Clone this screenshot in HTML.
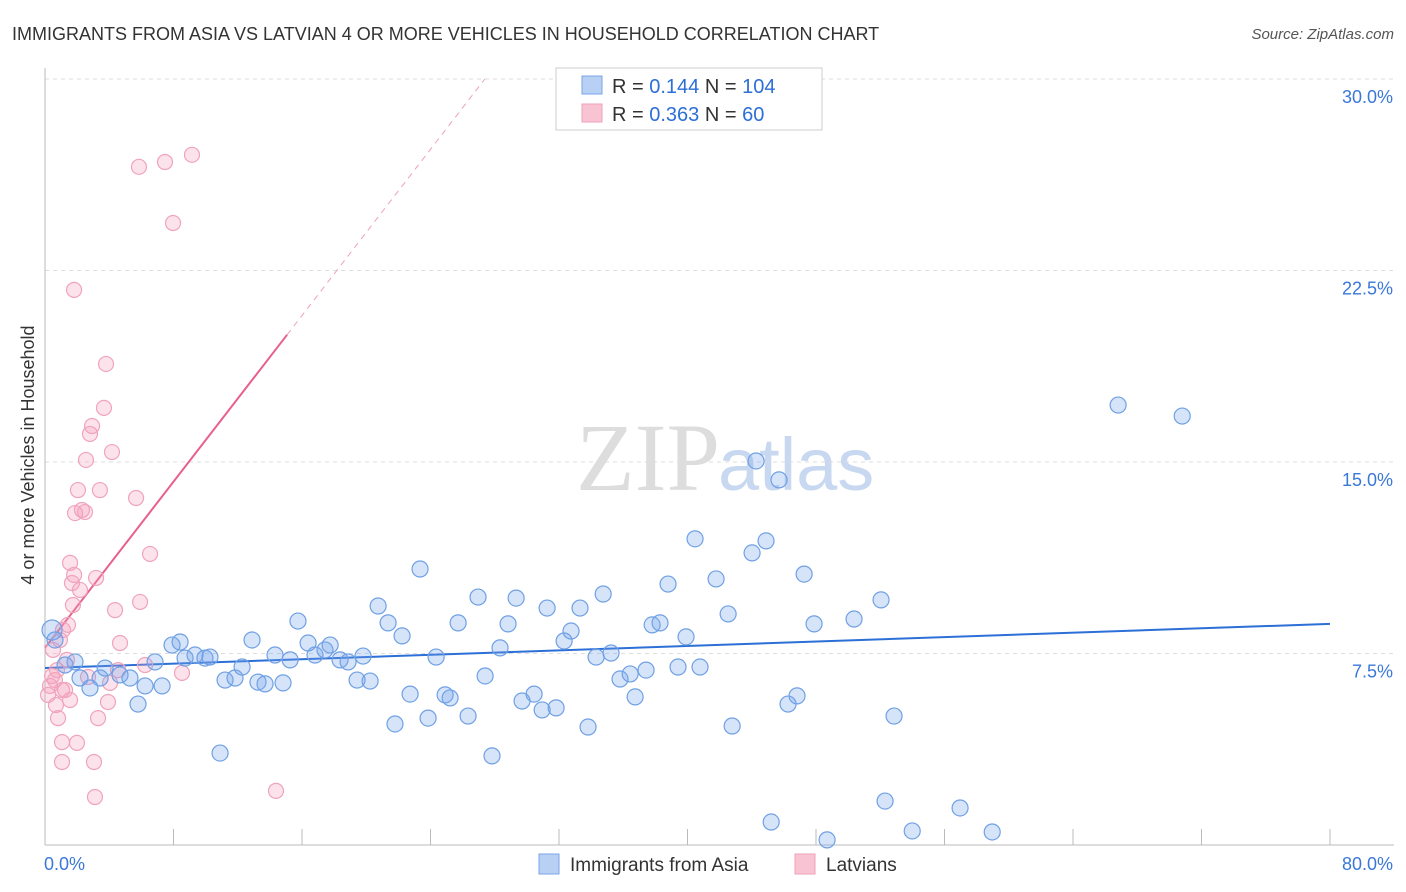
<!DOCTYPE html>
<html><head><meta charset="utf-8">
<style>
body{margin:0;background:#fff;font-family:"Liberation Sans",sans-serif;}
#wrap{position:relative;width:1406px;height:892px;overflow:hidden;}
</style></head>
<body>
<div id="wrap">
<svg id="chart" width="1406" height="892" xmlns="http://www.w3.org/2000/svg">
<text x="12" y="40" font-size="18" fill="#333">IMMIGRANTS FROM ASIA VS LATVIAN 4 OR MORE VEHICLES IN HOUSEHOLD CORRELATION CHART</text>
<text x="1394" y="39" font-size="15" fill="#555" font-style="italic" text-anchor="end">Source: ZipAtlas.com</text>
<text x="720" y="490" font-size="96" fill="#ddd" font-family="Liberation Serif" text-anchor="end">ZIP</text>
<text x="718" y="490" font-size="74" fill="#c8d8f0">atlas</text>
<text x="34" y="455" font-size="18" fill="#333" text-anchor="middle" transform="rotate(-90 34 455)">4 or more Vehicles in Household</text>
<g id="grid"></g><g id="ticks"></g><g id="lines"></g><g id="pts"></g>
<g>
<rect x="556" y="68" width="266" height="62" fill="#fff" stroke="#ccc"/>
<rect x="582" y="76" width="20" height="18" fill="#b8d0f4" stroke="#7aa6e6"/>
<rect x="582" y="104" width="20" height="18" fill="#f8c4d4" stroke="#f0a0b8"/>
<text x="612" y="93" font-size="20" fill="#333">R = <tspan fill="#2c6fd6">0.144</tspan>   N = <tspan fill="#2c6fd6">104</tspan></text>
<text x="612" y="121" font-size="20" fill="#333">R = <tspan fill="#2c6fd6">0.363</tspan>   N = <tspan fill="#2c6fd6">  60</tspan></text>
</g>
<g>
<rect x="539" y="854" width="20" height="20" fill="#b8d0f4" stroke="#7aa6e6"/>
<text x="570" y="871" font-size="19" fill="#333">Immigrants from Asia</text>
<rect x="795" y="854" width="20" height="20" fill="#f8c4d4" stroke="#f0a0b8"/>
<text x="826" y="871" font-size="19" fill="#333">Latvians</text>
</g>
</svg>
</div>
<script>
const xTicks=[0,8,16,24,32,40,48,56,64,72,80];
const yTicks=[7.5,15,22.5,30];
const yTickLabels=["7.5%","15.0%","22.5%","30.0%"];
const xEndLabels=["0.0%","80.0%"];
const asiaX=[0.44,0.62,1.25,1.87,2.18,2.80,3.43,3.74,4.67,5.29,5.79,6.23,6.85,7.29,7.91,8.41,8.72,9.34,9.96,10.27,10.90,11.21,11.83,12.27,12.89,13.26,13.70,14.32,14.82,15.26,15.75,16.38,16.81,17.43,17.75,18.37,18.87,19.43,19.80,20.24,20.74,21.36,21.79,22.23,22.73,23.35,23.85,24.35,24.91,25.22,25.72,26.34,26.96,27.40,27.83,28.33,28.83,29.33,29.70,30.45,30.95,31.26,31.82,32.32,32.75,33.31,33.81,34.31,34.75,35.24,35.80,36.43,36.74,37.42,37.80,38.29,38.79,39.41,39.91,40.47,40.78,41.78,42.53,42.78,44.02,44.27,44.89,45.21,45.70,46.26,46.82,47.26,47.88,48.69,50.37,52.05,52.30,52.86,53.99,56.97,58.97,66.81,70.80];
const asiaY=[8.42,8.03,7.05,7.17,6.54,6.15,6.54,6.93,6.66,6.54,5.52,6.23,7.17,6.23,7.83,7.95,7.32,7.44,7.32,7.36,3.60,6.46,6.54,6.97,8.03,6.38,6.31,7.44,6.35,7.25,8.77,7.91,7.44,7.64,7.83,7.25,7.17,6.46,7.40,6.42,9.36,8.70,4.74,8.19,5.91,10.81,4.97,7.36,5.88,5.76,8.70,5.05,9.71,6.62,3.49,7.72,8.66,9.67,5.64,5.91,5.29,9.28,5.37,7.99,8.38,9.28,4.62,7.36,9.83,7.52,6.50,6.70,5.80,6.85,8.62,8.70,10.22,6.97,8.15,11.99,6.97,10.42,9.05,4.66,11.44,15.04,11.91,0.90,14.30,5.52,5.84,10.61,8.66,0.20,8.85,9.60,1.72,5.05,0.55,1.45,0.51,17.23,16.80];
const latX=[0.19,0.31,0.44,0.50,0.62,0.75,0.81,0.93,1.06,1.06,1.12,1.25,1.37,1.43,1.56,1.56,1.68,1.74,1.81,1.81,1.87,1.99,2.05,2.18,2.30,2.49,2.55,2.80,2.93,3.05,3.11,3.18,3.30,3.42,3.67,3.80,3.92,4.17,4.05,4.36,4.55,4.67,5.67,5.92,6.23,6.54,5.85,7.47,7.97,9.15,8.53,14.38,1.06,0.68,2.68];
const latY=[5.88,6.23,6.62,7.64,6.46,6.85,4.97,8.03,3.25,4.03,8.42,6.07,7.25,8.62,11.05,5.68,10.26,9.40,10.58,21.74,13.00,4.00,13.90,9.99,13.12,13.04,15.08,16.10,16.41,3.25,1.88,10.46,4.97,13.90,17.12,18.84,5.60,15.39,6.35,9.20,6.85,7.91,13.59,9.52,7.05,11.40,26.56,26.75,24.36,27.03,6.74,2.12,6.07,5.48,6.58];
const asiaTrend=[6.93,8.66];
const latTrendStart=7.72, latTrendSlope=0.8136, latSolidEnd=15.07;

const X0=45,X1=1330,Y0=845,Y1=79;
const sx=v=>X0+(v/80)*(X1-X0);
const sy=v=>Y0-(v/30)*(Y0-Y1);
const NS="http://www.w3.org/2000/svg";
function mk(tag,attrs,parent){const e=document.createElementNS(NS,tag);for(const k in attrs)e.setAttribute(k,attrs[k]);document.getElementById(parent).appendChild(e);return e;}

yTicks.forEach((t,i)=>{
  const g=mk('line',{x1:X0,x2:1394,y1:sy(t),y2:sy(t),stroke:'#ddd','stroke-dasharray':'4,4'},'grid');
  
  
  const l=mk('text',{x:1393,y:sy(t)+24,'font-size':18,fill:'#3a78d8','text-anchor':'end'},'grid');
  l.textContent=yTickLabels[i];
  
  
});
const ax=mk('line',{x1:X0,x2:1394,y1:Y0,y2:Y0,stroke:'#bbb'},'ticks');


const yax=mk('line',{x1:X0,x2:X0,y1:68,y2:Y0,stroke:'#bbb'},'ticks');


xTicks.forEach(t=>{
  const l=mk('line',{x1:sx(t),x2:sx(t),y1:Y0-16,y2:Y0,stroke:'#bbb'},'ticks');
  
  
});
const xl0=mk('text',{x:44,y:870,'font-size':18,fill:'#3a78d8'},'ticks');
xl0.textContent=xEndLabels[0];


const xl1=mk('text',{x:1393,y:870,'font-size':18,fill:'#3a78d8','text-anchor':'end'},'ticks');
xl1.textContent=xEndLabels[1];



latX.forEach((v,i)=>{
  const c=mk('circle',{cx:sx(v),cy:sy(latY[i]),r:7.5,fill:'rgba(244,160,190,0.3)',stroke:'#f0a4bc','stroke-width':1.2},'pts');
  
  
});
asiaX.forEach((v,i)=>{
  const c=mk('circle',{cx:sx(v),cy:sy(asiaY[i]),r:i===0?10:8,fill:'rgba(120,165,235,0.3)',stroke:'#6fa0e4','stroke-width':1.2},'pts');
  
  
});
const bt=mk('line',{x1:sx(0),y1:sy(asiaTrend[0]),x2:sx(80),y2:sy(asiaTrend[1]),stroke:'#2c6fd6','stroke-width':2},'lines');


const xEnd=(30-latTrendStart)/latTrendSlope;
const pt=mk('line',{x1:sx(0),y1:sy(latTrendStart),x2:sx(latSolidEnd),y2:sy(latTrendStart+latTrendSlope*latSolidEnd),stroke:'#e8608a','stroke-width':2},'lines');


const pd=mk('line',{x1:sx(latSolidEnd),y1:sy(latTrendStart+latTrendSlope*latSolidEnd),x2:sx(xEnd),y2:sy(30),stroke:'#f0a0b8','stroke-width':1,'stroke-dasharray':'6,5'},'lines');


</script>
</body></html>
